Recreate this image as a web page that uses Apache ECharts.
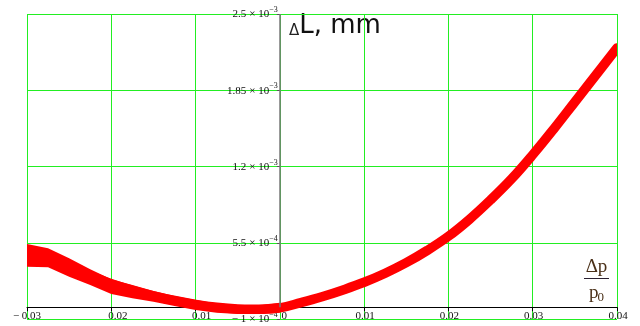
<!DOCTYPE html>
<html>
<head>
<meta charset="utf-8">
<script src="https://cdn.jsdelivr.net/npm/echarts@6/dist/echarts.min.js"></script>
<style>
  html, body { margin: 0; padding: 0; background: #ffffff; }
  #chart { width: 640px; height: 326px; }
</style>
</head>
<body>
<div id="chart"></div>
<script>
// Relative pressure change Δp/p0 along the measured curve
const pressureRatio = [
  -0.03, -0.0275, -0.025, -0.0225, -0.02, -0.0175, -0.015, -0.0125, -0.01, -0.0075,
  -0.005, -0.0025, 0, 0.0025, 0.005, 0.0075, 0.01, 0.0125, 0.015, 0.0175,
  0.02, 0.0225, 0.025, 0.0275, 0.03, 0.0325, 0.035, 0.0375, 0.04
];
// Elongation ΔL, mm (centre of the trace)
const elongation = [
  4.50e-4, 4.00e-4, 3.38e-4, 2.70e-4, 2.00e-4, 1.45e-4, 9.8e-5, 5.8e-5, 2.5e-5, 0,
  -1.5e-5, -1.7e-5, -5e-6, 4.0e-5, 9.0e-5, 1.48e-4, 2.13e-4, 2.90e-4, 3.80e-4, 4.85e-4,
  6.05e-4, 7.50e-4, 9.15e-4, 1.095e-3, 1.300e-3, 1.520e-3, 1.750e-3, 1.980e-3, 2.210e-3
];
// Scatter envelope of the noisy branch below zero pressure change
const bandRatio = [
  -0.03, -0.0275, -0.025, -0.0225, -0.02, -0.0175, -0.015, -0.0125, -0.01, -0.0075,
  -0.005, -0.0025, 0
];
const bandUpper = [
  5.39e-4, 5.03e-4, 4.17e-4, 3.24e-4, 2.38e-4, 1.90e-4, 1.39e-4, 9.6e-5, 6.2e-5, 3.4e-5,
  1.9e-5, 1.9e-5, 3.9e-5
];
const bandLower = [
  3.46e-4, 3.41e-4, 2.61e-4, 1.90e-4, 1.13e-4, 7.6e-5, 4.7e-5, 1.1e-5, -2.3e-5, -4.6e-5,
  -5.7e-5, -5.7e-5, -4.6e-5
];
// Axis ticks and their labels
const xTicks = [-0.03, -0.02, -0.01, 0, 0.01, 0.02, 0.03, 0.04];
const xTickLabels = ['− 0.03', '0.02', '0.01', '0', '0.01', '0.02', '0.03', '0.04'];
const yTicks = [-1e-4, 5.5e-4, 1.2e-3, 1.85e-3, 2.5e-3];
const yTickMantissa = ['− 1', '5.5', '1.2', '1.85', '2.5'];
const yTickExponent = ['−4', '−4', '−3', '−3', '−3'];

const GRID_GREEN = '#22ee22';
const TRACE_RED = '#ff0000';
const SERIF = '"Liberation Serif", "Times New Roman", serif';

// plot box
const W = 640, H = 326;
const G = { left: 27, right: 23, top: 14, bottom: 7 };
const plotW = W - G.left - G.right;
const plotH = H - G.top - G.bottom;
const xMin = xTicks[0], xMax = xTicks[xTicks.length - 1];
const yMin = yTicks[0], yMax = yTicks[yTicks.length - 1];
// both axes cross at the origin, inside the plot box
const xAxisShift = -plotH * (0 - yMin) / (yMax - yMin);
const yAxisShift = -plotW * (0 - xMin) / (xMax - xMin);

function nearestIndex(list, v) {
  let best = 0;
  for (let i = 1; i < list.length; i++) {
    if (Math.abs(list[i] - v) < Math.abs(list[best] - v)) best = i;
  }
  return best;
}

const tickText = { fontFamily: SERIF, fontSize: 11, color: '#111', lineHeight: 12 };
// label nudges: the unsigned negative labels sit where their sign would have been
const xLabelStyleKey = ['n', 'a', 'b', 'z', 'p', 'p', 'p', 'p'];

const chart = echarts.init(document.getElementById('chart'), null, { renderer: 'canvas' });

chart.setOption({
  animation: false,
  backgroundColor: '#ffffff',
  grid: { left: G.left, right: G.right, top: G.top, bottom: G.bottom, containLabel: false, outerBoundsMode: 'none' },
  xAxis: {
    type: 'value',
    min: xMin,
    max: xMax,
    offset: xAxisShift,
    axisLine: { show: true, onZero: false, lineStyle: { color: '#000', width: 1 } },
    axisTick: { show: true, customValues: xTicks, length: 4, lineStyle: { color: '#000', width: 1 } },
    axisLabel: {
      show: true,
      customValues: xTicks,
      margin: 3,
      formatter: function (v) {
        const i = nearestIndex(xTicks, v);
        return '{' + xLabelStyleKey[i] + '|' + xTickLabels[i] + '}';
      },
      rich: {
        n: Object.assign({}, tickText),
        a: Object.assign({}, tickText, { padding: [0, 0, 0, 13] }),
        b: Object.assign({}, tickText, { padding: [0, 0, 0, 12] }),
        z: Object.assign({}, tickText, { padding: [0, 0, 0, 9] }),
        p: Object.assign({}, tickText, { padding: [0, 0, 0, 2] })
      }
    },
    splitLine: { show: true, lineStyle: { color: GRID_GREEN, width: 1 } }
  },
  yAxis: {
    type: 'value',
    min: yMin,
    max: yMax,
    offset: yAxisShift,
    axisLine: { show: false, onZero: false },
    axisTick: { show: true, customValues: yTicks, length: 3, lineStyle: { color: '#555', width: 1 } },
    axisLabel: {
      show: true,
      customValues: yTicks,
      margin: 2,
      formatter: function (v) {
        const i = nearestIndex(yTicks, v);
        return '{m|' + yTickMantissa[i] + '}{x|×}{m|10}{e|' + yTickExponent[i] + '}';
      },
      rich: {
        m: Object.assign({}, tickText, { verticalAlign: 'bottom' }),
        x: Object.assign({}, tickText, { verticalAlign: 'bottom', padding: [0, 3, 0, 3] }),
        e: { fontFamily: SERIF, fontSize: 8, lineHeight: 8, color: '#111', verticalAlign: 'bottom', padding: [0, 0, 6, 0] }
      }
    },
    splitLine: { show: true, lineStyle: { color: GRID_GREEN, width: 1 } }
  },
  graphic: [
    {
      type: 'text',
      x: 289,
      y: 9,
      silent: true,
      style: {
        text: '{d|Δ}{t|L, mm}',
        rich: {
          d: { fontFamily: '"DejaVu Sans", sans-serif', fontSize: 15, lineHeight: 23, verticalAlign: 'bottom', fill: '#222' },
          t: { fontFamily: '"DejaVu Sans", sans-serif', fontSize: 26, lineHeight: 30, verticalAlign: 'bottom', fill: '#111' }
        }
      }
    },
    {
      type: 'text',
      x: 596.5,
      y: 267,
      silent: true,
      style: { text: 'Δp', font: '19px ' + SERIF, fill: '#4a3018', align: 'center', verticalAlign: 'middle' }
    },
    {
      type: 'line',
      silent: true,
      shape: { x1: 584, y1: 278.5, x2: 609, y2: 278.5 },
      style: { stroke: '#2a2030', lineWidth: 1 }
    },
    {
      type: 'text',
      x: 589,
      y: 293,
      silent: true,
      style: { text: 'p', font: '19px ' + SERIF, fill: '#4a3018', align: 'left', verticalAlign: 'middle' }
    },
    {
      type: 'text',
      x: 597.5,
      y: 298,
      silent: true,
      style: { text: '0', font: '13px ' + SERIF, fill: '#4a3018', align: 'left', verticalAlign: 'middle' }
    }
  ],
  series: [
    {
      // vertical ΔL axis drawn from zero up to the top of the scale
      type: 'line',
      data: [],
      z: 1,
      silent: true,
      markLine: {
        silent: true,
        symbol: 'none',
        animation: false,
        label: { show: false },
        lineStyle: { color: '#777', width: 1.5, type: 'solid' },
        data: [[{ coord: [0, 0] }, { coord: [0, yMax] }]]
      }
    },
    {
      // thick measured trace with its scatter envelope, clipped to the plot box
      type: 'custom',
      coordinateSystem: 'cartesian2d',
      silent: true,
      clip: true,
      z: 3,
      data: [[pressureRatio[0], elongation[0]]],
      renderItem: function (params, api) {
        const band = [];
        for (let i = 0; i < bandRatio.length; i++) band.push(api.coord([bandRatio[i], bandUpper[i]]));
        for (let i = bandRatio.length - 1; i >= 0; i--) band.push(api.coord([bandRatio[i], bandLower[i]]));
        const trace = pressureRatio.map(function (x, i) { return api.coord([x, elongation[i]]); });
        return {
          type: 'group',
          children: [
            { type: 'polygon', shape: { points: band }, style: { fill: TRACE_RED } },
            {
              type: 'polyline',
              shape: { points: trace, smooth: 0.4 },
              style: { stroke: TRACE_RED, fill: null, lineWidth: 9.5, lineCap: 'round', lineJoin: 'round' }
            }
          ]
        };
      }
    }
  ]
});
</script>
</body>
</html>
